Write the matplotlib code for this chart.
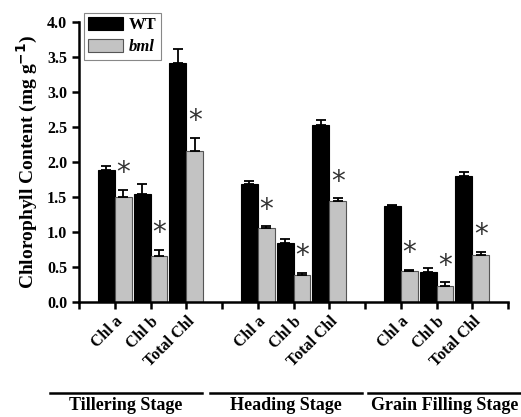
import matplotlib
matplotlib.use("Agg")
import matplotlib.pyplot as plt
from matplotlib.lines import Line2D
import numpy as np

categories = ["Chl a", "Chl b", "Total Chl"] * 3
positions = [1, 2, 3, 5, 6, 7, 9, 10, 11]
stages = ["Tillering Stage", "Heading Stage", "Grain Filling Stage"]

wt = [1.88, 1.54, 3.42, 1.69, 0.84, 2.53, 1.37, 0.43, 1.80]
wt_err = [0.06, 0.15, 0.20, 0.04, 0.06, 0.07, 0.01, 0.06, 0.05]
bml = [1.50, 0.66, 2.16, 1.06, 0.38, 1.44, 0.44, 0.23, 0.67]
bml_err = [0.10, 0.08, 0.18, 0.02, 0.03, 0.04, 0.02, 0.05, 0.05]

serif = ["Liberation Serif", "DejaVu Serif"]
plt.rcParams["font.family"] = serif
plt.rcParams["font.weight"] = "bold"

fig = plt.figure(figsize=(5.21, 4.17), dpi=100)
ax = fig.add_axes([79 / 521, (417 - 302) / 417, (508 - 79) / 521, 280 / 417])

w = 0.47
x = np.array(positions, dtype=float)
ax.bar(x - w / 2, wt, w, color="black", edgecolor="black", linewidth=0.8,
       yerr=[np.zeros(len(wt)), wt_err], error_kw=dict(ecolor="black", elinewidth=1.3, capsize=3.5, capthick=1.3),
       label="WT", zorder=2)
ax.bar(x + w / 2, bml, w, color="#c3c3c3", edgecolor="#555555", linewidth=0.8,
       yerr=[np.zeros(len(bml)), bml_err], error_kw=dict(ecolor="black", elinewidth=1.3, capsize=3.5, capthick=1.3),
       label="bml", zorder=2)

for xi, v, e in zip(x + w / 2, bml, bml_err):
    ax.text(xi, v + e + 0.04, "*", ha="center", va="bottom", fontsize=20,
            fontweight="normal", color="#333333", family=["DejaVu Sans"])

ax.set_xlim(0, 12)
ax.set_ylim(0, 4.0)
ax.set_yticks(np.arange(0, 4.01, 0.5))
ax.set_yticklabels([f"{v:.1f}" for v in np.arange(0, 4.01, 0.5)], fontsize=11.5, fontweight="bold")
ax.set_xticks(range(0, 13))
labels = [""] * 13
for p, c in zip(positions, categories):
    labels[p] = c
ax.set_xticklabels(labels, rotation=45, ha="right", rotation_mode="anchor",
                   fontsize=11.5, fontweight="bold")
for lab in ax.get_xticklabels():
    lab.set_transform(lab.get_transform() + matplotlib.transforms.ScaledTranslation(6 / 72, -4 / 72, fig.dpi_scale_trans))

for s in ["top", "right"]:
    ax.spines[s].set_visible(False)
for s in ["left", "bottom"]:
    ax.spines[s].set_linewidth(1.8)
ax.tick_params(axis="both", direction="out", width=1.8, length=5)

ax.set_ylabel("Chlorophyll Content (mg g$^{\\mathbf{-1}}$)", fontsize=14, fontweight="bold", labelpad=5)

leg = ax.legend(loc="upper left", bbox_to_anchor=(84 / 521, 1 - 13 / 417), bbox_transform=fig.transFigure,
                fancybox=False, edgecolor="#888888", framealpha=1, handlelength=2.1, handleheight=0.8,
                borderpad=0.25, labelspacing=0.35, handletextpad=0.35, borderaxespad=0,
                prop={"size": 12, "weight": "bold", "family": serif})
leg.get_frame().set_linewidth(0.8)
leg.get_texts()[1].set_style("italic")

line_y = 1 - 393 / 417
for (x0, x1), name in zip([(50, 202), (210, 362), (368, 521)], stages):
    fig.add_artist(Line2D([x0 / 521, x1 / 521], [line_y, line_y], transform=fig.transFigure,
                          color="black", linewidth=1.8))
    fig.text((x0 + x1) / 2 / 521, 1 - 406 / 417, name, ha="center", va="center",
             fontsize=13, fontweight="bold")

fig.savefig("out.png", dpi=100)
